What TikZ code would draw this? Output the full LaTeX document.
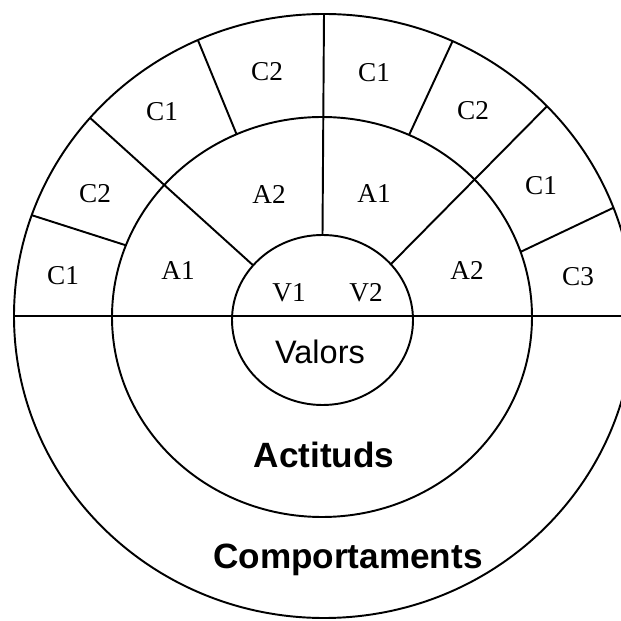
\documentclass[tikz,border=0pt]{standalone}
\usepackage{fontspec}
\setmainfont{Liberation Serif}
\setsansfont{Liberation Sans}
\usetikzlibrary{calc}

\begin{document}
\begin{tikzpicture}[x=0.02cm, y=0.02cm,
  ring/.style={draw=black, line width=1.1pt},
  part/.style={font=\fontsize{15.5}{16}\selectfont, inner sep=0pt},
  core/.style={font=\sffamily\fontsize{18.5}{20}\selectfont, inner sep=0pt},
  layer/.style={font=\sffamily\bfseries\fontsize{20}{22}\selectfont, inner sep=0pt}]
\clip (-324,-305) rectangle (297,316);
\fill[white] (-324,-305) rectangle (297,316);
\coordinate (cout) at (0,0);
\coordinate (cmid) at (-2,-1);
\coordinate (cval) at (-1.5,-4);
% the three rings
\draw[ring] (cout) ellipse [x radius=310, y radius=302];
\draw[ring] (cmid) ellipse [x radius=210, y radius=200];
\draw[ring] (cval) ellipse [x radius=90.5, y radius=85];
% dividers
\draw[ring] ($(cout)+(180:310 and 302)$) -- ($(cout)+(0:310 and 302)$);
\draw[ring] ($(cval)+(90:90.5 and 85)$) -- ($(cout)+(90:310 and 302)$);
\draw[ring] ($(cval)+(140:90.5 and 85)$) -- ($(cout)+(139:310 and 302)$);
\draw[ring] ($(cval)+(41:90.5 and 85)$) -- ($(cout)+(44:310 and 302)$);
\draw[ring] ($(cmid)+(159:210 and 200)$) -- ($(cout)+(160.5:310 and 302)$);
\draw[ring] ($(cmid)+(114:210 and 200)$) -- ($(cout)+(114:310 and 302)$);
\draw[ring] ($(cmid)+(65.5:210 and 200)$) -- ($(cout)+(65.5:310 and 302)$);
\draw[ring] ($(cmid)+(19:210 and 200)$) -- ($(cout)+(21:310 and 302)$);
% outer ring labels
\node[part] (c2top) at (-57,244) {C2};
\node[part] (c1top) at (50,243) {C1};
\node[part] (c1ul) at (-162,204) {C1};
\node[part] (c2ur) at (149,205) {C2};
\node[part] (c2ml) at (-229,122) {C2};
\node[part] (c1mr) at (217,130) {C1};
\node[part] (c1ll) at (-261,40) {C1};
\node[part] (c3lr) at (254,39) {C3};
% middle ring labels
\node[part] (a2l) at (-55,122) {A2};
\node[part] (a1r) at (50,122) {A1};
\node[part] (a1ll) at (-146,45) {A1};
\node[part] (a2lr) at (143,46) {A2};
% core labels
\node[part] (v1) at (-35,23) {V1};
\node[part] (v2) at (42,23) {V2};
\node[core] (valors) at (-4,-36) {Valors};
\node[layer] (actituds) at (0,-139) {Actituds};
\node[layer] (comport) at (24,-244) {Comportaments};
\end{tikzpicture}
\end{document}
